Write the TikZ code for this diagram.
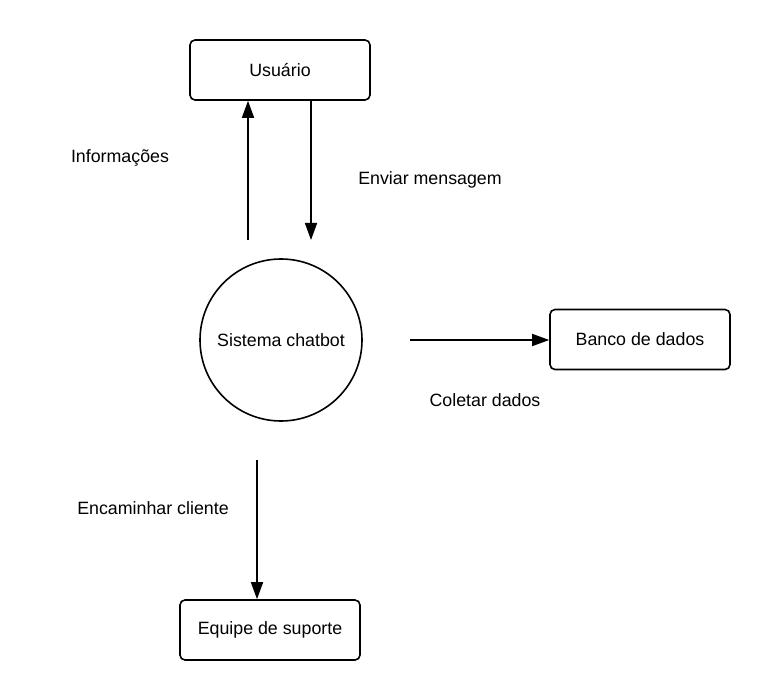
\documentclass[tikz,border=0pt]{standalone}
\usepackage{fontspec}
\setmainfont{Liberation Sans}
\usetikzlibrary{arrows.meta}
\begin{document}
\begin{tikzpicture}[x=1pt,y=-1pt,
  txt/.style={font=\fontsize{17.8}{21}\selectfont},
  box/.style={txt, draw, line width=1.6pt, rounded corners=5pt, minimum width=180pt, minimum height=60pt, inner sep=0pt},
  proc/.style={txt, draw, circle, line width=1.6pt, minimum size=162pt, inner sep=0pt},
  flow/.style={line width=1.6pt, -{Triangle[length=17pt,width=12pt]}}]
\useasboundingbox[fill=white] (0,0) rectangle (770,700);
\node[box] (u) at (280,70) {Usuário};
\node[proc] (s) at (281,340) {Sistema chatbot};
\node[box] (b) at (640,339.5) {Banco de dados};
\node[box] (e) at (270,630) {Equipe de suporte};
\coordinate (c1) at (248,240);
\coordinate (c2) at (311,240);
\coordinate (c3) at (410,340);
\coordinate (c4) at (257,460);
\draw[flow] (c1) -- (c1 |- u.south);
\draw[flow] (c2 |- u.south) -- (c2);
\draw[flow] (c3) -- (c3 -| b.west);
\draw[flow] (c4) -- (c4 |- e.north);
\node[txt] (l1) at (120,158) {Informações};
\node[txt] (l2) at (430,180) {Enviar mensagem};
\node[txt] (l3) at (485,400) {Coletar dados};
\node[txt] (l4) at (153,508) {Encaminhar cliente};
\end{tikzpicture}
\end{document}
